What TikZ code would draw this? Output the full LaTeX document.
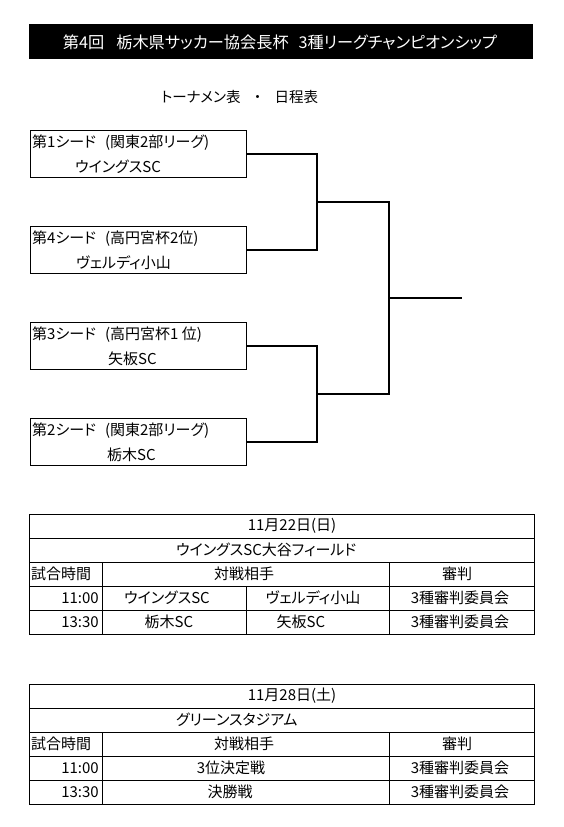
\documentclass[tikz,border=0pt]{standalone}
\usepackage{fontspec}
\setmainfont{Noto Sans CJK JP}[RawFeature=+palt]
\begin{document}
\begin{tikzpicture}[x=1pt,y=-1pt,
  txt/.style={inner sep=0pt, font=\fontsize{15}{15}\selectfont},
  btxt/.style={inner sep=0pt, font=\fontsize{15}{15}\selectfont},
  seedbox/.style={draw=black, line width=0.9pt, minimum width=216pt, minimum height=47pt, inner sep=0pt},
  bracket/.style={line width=1.1pt},
  grid/.style={line width=0.8pt}]
\useasboundingbox (0,0) rectangle (563,827);
% title
\node[fill=black, minimum width=504pt, minimum height=35pt, inner sep=0pt] (title) at (281,41.5) {};
\node[inner sep=0pt, text=white, font=\fontsize{16.2}{16.2}\selectfont] (titletext) at (280,42) {第4回\hspace{12pt}栃木県サッカー協会長杯\hspace{10pt}3種リーグチャンピオンシップ};
\node[inner sep=0pt, anchor=west, font=\fontsize{14.5}{14.5}\selectfont] (sub) at (161,97) {トーナメン表\hspace{9pt}\makebox[16pt]{・}\hspace{9pt}日程表};
% seed boxes
\node[seedbox] (s1) at (138,154) {};
\node[seedbox] (s2) at (138,250) {};
\node[seedbox] (s3) at (138,346) {};
\node[seedbox] (s4) at (138,442) {};
\node[btxt, anchor=west] (s1a) at (32,143) {第1シード\hspace{9pt}(関東2部リーグ)};
\node[btxt, anchor=west] (s1b) at (75,167) {ウイングスSC};
\node[btxt, anchor=west] (s2a) at (32,239) {第4シード\hspace{9pt}(高円宮杯2位)};
\node[btxt, anchor=west] (s2b) at (76,263) {ヴェルディ小山};
\node[btxt, anchor=west] (s3a) at (32,335) {第3シード\hspace{9pt}(高円宮杯1 位)};
\node[btxt, anchor=west] (s3b) at (108,359) {矢板SC};
\node[btxt, anchor=west] (s4a) at (32,431) {第2シード\hspace{9pt}(関東2部リーグ)};
\node[btxt, anchor=west] (s4b) at (107,455) {栃木SC};
% bracket
\coordinate (j1) at (317,202);
\coordinate (j2) at (317,394);
\coordinate (f) at (389,298);
\coordinate (fin) at (462,298);
\draw[bracket] (s1.east) -| (j1);
\draw[bracket] (s2.east) -| (j1);
\draw[bracket] (s3.east) -| (j2);
\draw[bracket] (s4.east) -| (j2);
\draw[bracket] (j1) -| (f);
\draw[bracket] (j2) -| (f);
\draw[bracket] (f) -- (fin);
% table 1
\draw[grid] (29,514) rectangle (534,634);
\foreach \yy in {538,562,586,610} \draw[grid] (29,\yy) -- (534,\yy);
\draw[grid] (102,562) -- (102,634);
\draw[grid] (389,562) -- (389,634);
\draw[grid] (246,586) -- (246,634);
\node[txt] (t1date) at (292,526) {11月22日(日)};
\node[txt, anchor=west] (t1place) at (176,550) {ウイングスSC大谷フィールド};
\node[txt] (t1h1) at (61,574) {試合時間};
\node[txt] (t1h2) at (244,574) {対戦相手};
\node[txt] (t1h3) at (457,574) {審判};
\node[txt, anchor=east] (t1r1t) at (99,598) {11:00};
\node[txt] (t1r1a) at (167,598) {ウイングスSC};
\node[txt] (t1r1b) at (313,598) {ヴェルディ小山};
\node[txt] (t1r1c) at (460,598) {3種審判委員会};
\node[txt, anchor=east] (t1r2t) at (99,622) {13:30};
\node[txt] (t1r2a) at (169,622) {栃木SC};
\node[txt] (t1r2b) at (301,622) {矢板SC};
\node[txt] (t1r2c) at (460,622) {3種審判委員会};
% table 2
\draw[grid] (29,684) rectangle (534,804);
\foreach \yy in {708,732,756,780} \draw[grid] (29,\yy) -- (534,\yy);
\draw[grid] (102,732) -- (102,804);
\draw[grid] (389,732) -- (389,804);
\node[txt] (t2date) at (292,696) {11月28日(土)};
\node[txt, anchor=west] (t2place) at (176,720) {グリーンスタジアム};
\node[txt] (t2h1) at (61,744) {試合時間};
\node[txt] (t2h2) at (244,744) {対戦相手};
\node[txt] (t2h3) at (457,744) {審判};
\node[txt, anchor=east] (t2r1t) at (99,768) {11:00};
\node[txt] (t2r1a) at (231,768) {3位決定戦};
\node[txt] (t2r1c) at (460,768) {3種審判委員会};
\node[txt, anchor=east] (t2r2t) at (99,792) {13:30};
\node[txt] (t2r2a) at (230,792) {決勝戦};
\node[txt] (t2r2c) at (460,792) {3種審判委員会};
\end{tikzpicture}
\end{document}
